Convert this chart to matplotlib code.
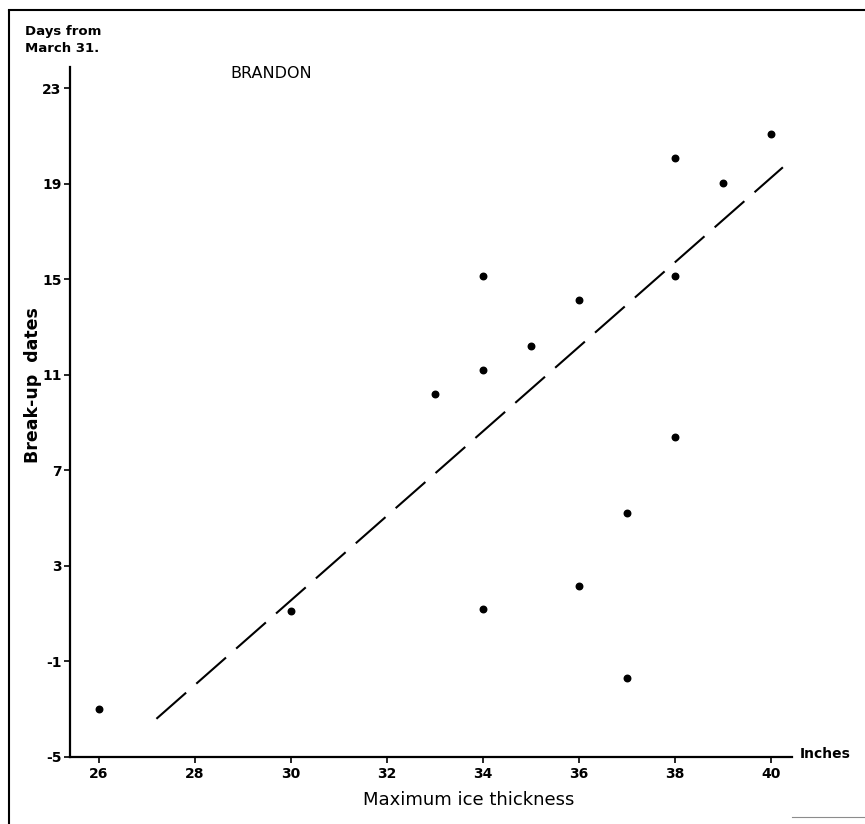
import matplotlib
matplotlib.use("Agg")
import matplotlib.pyplot as plt
from matplotlib.lines import Line2D

plt.rcParams['axes.unicode_minus'] = False
plt.rcParams['font.family'] = ['DejaVu Sans']

# ice thickness (inches) vs break-up date (days from March 31)
thickness = [26, 30, 33, 34, 34, 34, 35, 36, 36, 37, 37, 38, 38, 38, 39, 40]
breakup = [-3, 1.1, 10.2, 15.15, 11.2, 1.2, 12.2, 14.15, 2.15, 5.2, -1.7, 20.1, 15.15, 8.4, 19.05, 21.1]

# fitted line as drawn
fit_x = [27.2, 40.25]
fit_y = [-3.4, 19.7]

xticks = [26, 28, 30, 32, 34, 36, 38, 40]
yticks = [-5, -1, 3, 7, 11, 15, 19, 23]

fig = plt.figure(figsize=(8.65, 8.24), dpi=100)
ax = fig.add_axes([70/865, 67/824, (792-70)/865, (757-67)/824])

ax.scatter(thickness, breakup, s=22, color='black', zorder=3)
ax.plot(fit_x, fit_y, color='black', lw=1.5, dashes=(19, 6.5))

ax.set_xlim(25.4, 40.44)
ax.set_ylim(-5, 23.9)
ax.set_xticks(xticks)
ax.set_yticks(yticks)
ax.spines['top'].set_visible(False)
ax.spines['right'].set_visible(False)
for s in ['left', 'bottom']:
    ax.spines[s].set_linewidth(1.6)
ax.tick_params(direction='out', length=4.5, width=1.2, labelsize=10)
ax.tick_params(axis='y', pad=1.5)
ax.tick_params(axis='x', pad=3)
for lab in ax.get_xticklabels() + ax.get_yticklabels():
    lab.set_fontweight('bold')

fig.text(469/865, 1 - 800/824, 'Maximum ice thickness', fontsize=13,
         ha='center', va='center')
fig.text(33/865, 1 - 385/824, 'Break-up  dates', fontsize=12.5, fontweight='bold',
         rotation=90, ha='center', va='center')

fig.text(230/865, 1 - 73/824, 'BRANDON', fontsize=11.5, va='center', ha='left')
fig.text(25/865, 1 - 40/824, 'Days from\nMarch 31.', fontsize=9.5, fontweight='bold',
         va='center', ha='left', linespacing=1.4)
fig.text(800/865, 1 - 754/824, 'Inches', fontsize=10, fontweight='bold', va='center', ha='left')

# page frame
fig.add_artist(Line2D([9/865, 9/865], [0, 1 - 11/824], color='black', lw=1.5,
                      transform=fig.transFigure))
fig.add_artist(Line2D([9/865, 1], [1 - 10/824, 1 - 10/824], color='black', lw=1.5,
                      transform=fig.transFigure))
fig.add_artist(Line2D([792/865, 1], [1 - 817/824, 1 - 817/824], color='0.55', lw=0.8,
                      transform=fig.transFigure))

fig.savefig('out.png', dpi=100)
